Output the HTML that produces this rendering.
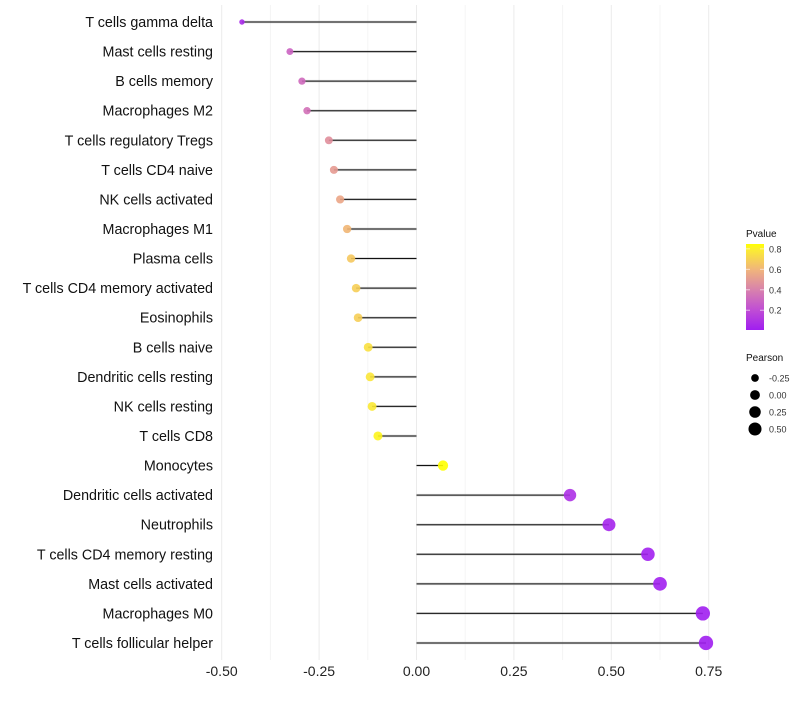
<!DOCTYPE html>
<html><head><meta charset="utf-8"><style>
body{margin:0;background:#fff;font-family:"Liberation Sans",sans-serif}
svg text{font-family:"Liberation Sans",sans-serif}
</style></head><body>
<svg id="c" width="800" height="700">
<defs><linearGradient id="pg" x1="0" y1="1" x2="0" y2="0">
<stop offset="0" stop-color="#a01ef0"/><stop offset="0.235" stop-color="#c04ed4"/>
<stop offset="0.47" stop-color="#d882ac"/><stop offset="0.7" stop-color="#f0b47c"/>
<stop offset="0.94" stop-color="#fcee30"/><stop offset="1" stop-color="#ffff00"/></linearGradient></defs>
</svg>
<script>
const cells=["T cells gamma delta","Mast cells resting","B cells memory","Macrophages M2","T cells regulatory  Tregs","T cells CD4 naive","NK cells activated","Macrophages M1","Plasma cells","T cells CD4 memory activated","Eosinophils","B cells naive","Dendritic cells resting","NK cells resting","T cells CD8","Monocytes","Dendritic cells activated","Neutrophils","T cells CD4 memory resting","Mast cells activated","Macrophages M0","T cells follicular helper"];
const pearson=[-0.448,-0.325,-0.294,-0.281,-0.225,-0.212,-0.196,-0.178,-0.168,-0.155,-0.150,-0.124,-0.119,-0.114,-0.099,0.068,0.394,0.494,0.594,0.625,0.735,0.743];
const pvalue=[0.05,0.3,0.33,0.36,0.48,0.52,0.56,0.62,0.68,0.7,0.7,0.76,0.78,0.79,0.82,0.86,0.08,0.03,0.01,0.01,0.0,0.0];
const xTicks=[-0.5,-0.25,0,0.25,0.5,0.75];
const xTickLabels=["-0.50","-0.25","0.00","0.25","0.50","0.75"];
const legendP=[0.8,0.6,0.4,0.2];
const legendR=[-0.25,0,0.25,0.5];
const svg=document.getElementById('c');const NS="http://www.w3.org/2000/svg";
function mk(t,a,p){const e=document.createElementNS(NS,t);for(const k in a)e.setAttribute(k,a[k]);(p||svg).appendChild(e);return e;}
const x=v=>416.5+(v)*389.6;
const y=i=>22+i*29.57;
const rad=v=>Math.sqrt(Math.max(2,24+37*v));
const stops=[[0,[160,30,240]],[0.2,[192,78,212]],[0.4,[214,120,176]],[0.6,[240,176,124]],[0.8,[252,236,48]],[0.85,[255,255,0]]];
function col(p){for(let i=1;i<stops.length;i++){if(p<=stops[i][0]){const a=stops[i-1],b=stops[i],t=(p-a[0])/(b[0]-a[0]);return 'rgb('+a[1].map((c,j)=>Math.round(c+(b[1][j]-c)*t)).join(',')+')';}}return 'rgb(255,255,0)';}
for(let i=0;i<xTicks.length-1;i++){const g=mk('line',{x1:x((xTicks[i]+xTicks[i+1])/2),x2:x((xTicks[i]+xTicks[i+1])/2),y1:5,y2:660,stroke:'#f4f4f4','stroke-width':1});

}
xTicks.forEach((t,i)=>{const g=mk('line',{x1:x(t),x2:x(t),y1:5,y2:660,stroke:'#ebebeb','stroke-width':1});


const tx=mk('text',{x:x(t),y:676,'text-anchor':'middle','font-size':14,fill:'#222'});tx.textContent=xTickLabels[i];

});
cells.forEach((c,i)=>{
const l=mk('text',{x:213,y:y(i)+5,'text-anchor':'end','font-size':14.3,fill:'#111'});l.textContent=c;


const h=mk('line',{x1:x(0),x2:x(pearson[i]),y1:y(i),y2:y(i),stroke:'#aaa','stroke-width':2.5,'stroke-opacity':0.5});


const s=mk('line',{x1:x(0),x2:x(pearson[i]),y1:y(i),y2:y(i),stroke:'#111','stroke-width':1});


const d=mk('circle',{cx:x(pearson[i]),cy:y(i),r:rad(pearson[i]),fill:col(pvalue[i]),'fill-opacity':0.9});

});
const lt=mk('text',{x:746,y:237,'font-size':10,fill:'#111'});lt.textContent='Pvalue';


const bar=mk('rect',{x:746,y:244,width:18,height:86,fill:'url(#pg)'});


legendP.forEach(p=>{const yy=330.7-p*102.3;const t=mk('text',{x:769,y:yy+3.5,'font-size':9,fill:'#333'});t.textContent=p.toFixed(1);


mk('line',{x1:746,x2:750,y1:yy,y2:yy,stroke:'#fff','stroke-opacity':0.6});mk('line',{x1:760,x2:764,y1:yy,y2:yy,stroke:'#fff','stroke-opacity':0.6});});
const pt=mk('text',{x:746,y:361,'font-size':10,fill:'#111'});pt.textContent='Pearson';


legendR.forEach((v,i)=>{const yy=378+i*17;const c=mk('circle',{cx:755,cy:yy,r:rad(v),fill:'#000'});


const t=mk('text',{x:769,y:yy+3.5,'font-size':9,fill:'#333'});t.textContent=v.toFixed(2);

});
</script>
</body></html>
